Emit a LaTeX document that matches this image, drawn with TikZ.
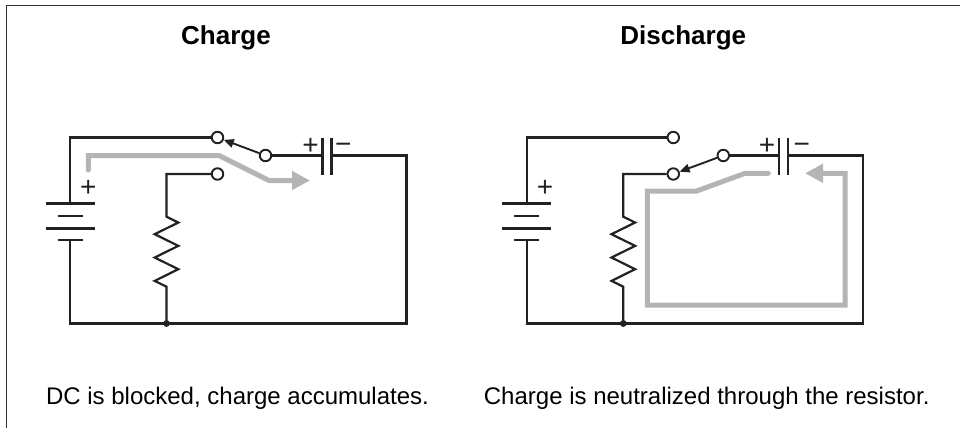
\documentclass[tikz,border=0pt]{standalone}
\usepackage{fontspec}
\setmainfont{Liberation Sans}
\usetikzlibrary{arrows.meta}
\definecolor{wire}{HTML}{222222}
\definecolor{flow}{HTML}{B4B4B4}
\definecolor{framec}{HTML}{333333}
\begin{document}
\begin{tikzpicture}[x=1pt,y=-1pt,
  wirestyle/.style={draw=wire,line width=2.2pt},
  term/.style={circle,draw=wire,line width=1.9pt,fill=white,minimum size=11.5pt,inner sep=0pt},
  arm/.style={draw=wire,line width=1.9pt,-{Triangle[length=10pt,width=8.5pt]}},
  flowline/.style={draw=flow,line width=5pt,line cap=round,line join=miter,-{Triangle[length=18pt,width=18pt]}},
  title/.style={font=\fontsize{26}{30}\selectfont\bfseries,anchor=base,inner sep=0pt},
  caption/.style={font=\fontsize{24}{28}\selectfont,anchor=base,inner sep=0pt},
  sign/.style={font=\fontsize{28}{32}\selectfont,anchor=base,inner sep=0pt,text=wire}
]
\useasboundingbox (0,0) rectangle (960,428);
% frame
\draw[framec,line width=1.3pt] (960,5.8) -- (6.6,5.8) -- (6.6,428);

% ================= LEFT: Charge =================
\node[title] (LT) at (226,44.3) {Charge};
\node[caption] (LCap) at (237.5,404) {DC is blocked, charge accumulates.};

\coordinate (LBa) at (70,203.5);
\coordinate (LBb) at (70,240);
\coordinate (LJ) at (166.5,323.5);
\coordinate (LRt) at (166.5,216.7);
\coordinate (LKa) at (322.5,155.5);
\coordinate (LKb) at (331.5,155.5);
\coordinate (LTR) at (406.5,155.5);
\coordinate (LBR) at (406.5,323.5);
\coordinate (LBL) at (70,323.5);

% gray flow (under the wires)
\draw[flowline] (88.3,170) -- (88.3,155.5) -- (219,155.5) -- (269,180.5) -- (310,180.5);

\node[term] (L1) at (217.5,137.5) {};
\node[term] (L2) at (217.5,174) {};
\node[term] (LC) at (265.5,155.5) {};

% battery
\draw[wirestyle] (45.5,203.5) -- (94.5,203.5);
\draw[wirestyle] (57.5,216) -- (82.5,216);
\draw[wirestyle] (45.5,228.5) -- (94.5,228.5);
\draw[wirestyle] (57.5,240) -- (82.5,240);
\node[sign] (LBp) at (88.3,196.9) {+};

% wires
\draw[wirestyle] (LBa) |- (L1.west);
\draw[wirestyle] (LC.east) -- (LKa);
\draw[wirestyle] (LKb) -- (LTR) -- (LBR) -- (LBL) -- (LBb);
\draw[wirestyle] (L2.west) -| (LRt)
  -- ++(11.8,5.83) -- ++(-23.6,11.67) -- ++(23.6,11.67) -- ++(-23.6,11.67)
  -- ++(23.6,11.67) -- ++(-23.6,11.67) -- ++(11.8,5.83) -- (LJ);
\fill[wire] (LJ) circle (3.4pt);

% capacitor
\draw[wirestyle] (322.5,137.5) -- (322.5,174.5);
\draw[wirestyle] (331.5,137.5) -- (331.5,174.5);
\node[sign] (LKp) at (310.5,154.1) {+};
\node[sign] (LKm) at (343.3,153.1) {−};

% switch arm
\draw[arm] (LC) -- (L1);

% ================= RIGHT: Discharge =================
\node[title] (RT) at (683.3,44.3) {Discharge};
\node[caption] (RCap) at (706.7,404) {Charge is neutralized through the resistor.};

\coordinate (RBa) at (526.8,203.5);
\coordinate (RBb) at (526.8,240);
\coordinate (RJ) at (623.3,323.5);
\coordinate (RRt) at (623.3,216.7);
\coordinate (RKa) at (779.3,155.5);
\coordinate (RKb) at (788.3,155.5);
\coordinate (RTR) at (863.3,155.5);
\coordinate (RBR) at (863.3,323.5);
\coordinate (RBL) at (526.8,323.5);

% gray flow
\draw[flowline] (768.3,173.3) -- (745,173.3) -- (696.7,191) -- (647.3,191) -- (647.3,305) -- (845,305) -- (845,173.3) -- (805,173.3);

\node[term] (R1) at (673.3,137.5) {};
\node[term] (R2) at (673.3,174) {};
\node[term] (RC) at (723.3,155.5) {};

% battery
\draw[wirestyle] (502.3,203.5) -- (551.3,203.5);
\draw[wirestyle] (514.3,216) -- (539.3,216);
\draw[wirestyle] (502.3,228.5) -- (551.3,228.5);
\draw[wirestyle] (514.3,240) -- (539.3,240);
\node[sign] (RBp) at (545,196.9) {+};

% wires
\draw[wirestyle] (RBa) |- (R1.west);
\draw[wirestyle] (RC.east) -- (RKa);
\draw[wirestyle] (RKb) -- (RTR) -- (RBR) -- (RBL) -- (RBb);
\draw[wirestyle] (R2.west) -| (RRt)
  -- ++(11.8,5.83) -- ++(-23.6,11.67) -- ++(23.6,11.67) -- ++(-23.6,11.67)
  -- ++(23.6,11.67) -- ++(-23.6,11.67) -- ++(11.8,5.83) -- (RJ);
\fill[wire] (RJ) circle (3.4pt);

% capacitor
\draw[wirestyle] (779.3,137.5) -- (779.3,174.5);
\draw[wirestyle] (788.3,137.5) -- (788.3,174.5);
\node[sign] (RKp) at (767,154.1) {+};
\node[sign] (RKm) at (801.7,153.1) {−};

% switch arm
\draw[arm] (RC) -- (R2);
\end{tikzpicture}
\end{document}
